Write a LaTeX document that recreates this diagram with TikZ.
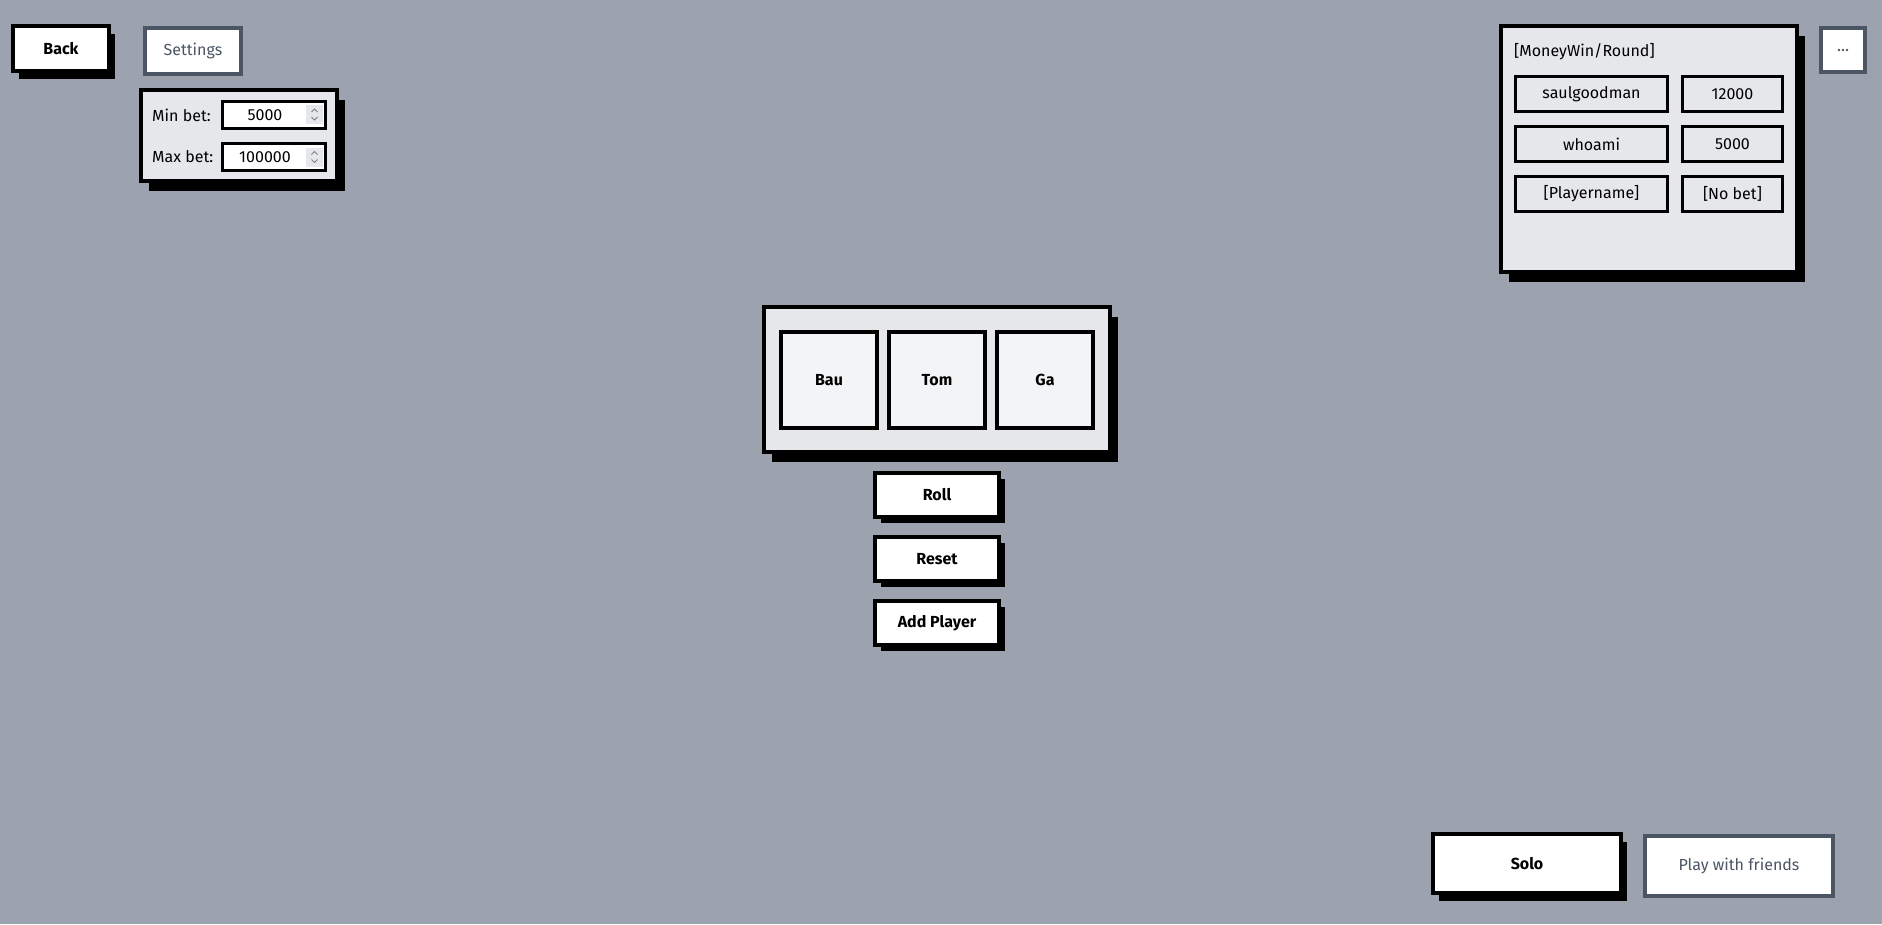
\documentclass[tikz,border=0pt]{standalone}
\usepackage{fontspec}
\setmainfont{Fira Sans}
\usepackage{tikz}
\usetikzlibrary{positioning,shadows}
\definecolor{bg}{HTML}{9CA3AF}
\definecolor{slate}{HTML}{4B5563}
\definecolor{panel}{HTML}{E5E7EB}
\definecolor{die}{HTML}{F3F4F6}

\begin{document}
\begin{tikzpicture}[x=1pt,y=-1pt,
        every node/.style={font=\fontsize{16}{19}\selectfont, inner sep=0pt},
        btn/.style={draw, line width=4pt, fill=white, font=\fontsize{16}{19}\selectfont\bfseries},
        ghost/.style={draw=slate, line width=4pt, fill=white, text=slate},
        pnl/.style={draw, line width=4pt, fill=panel},
        cell/.style={draw, line width=3pt, fill=panel, minimum height=35pt},
        field/.style={draw, line width=3pt, fill=white, minimum width=103pt, minimum height=27pt},
        bshadow/.style={general shadow={fill=black, shadow xshift=6pt, shadow yshift=-8pt}},
        sshadow/.style={general shadow={fill=black, shadow xshift=6pt, shadow yshift=-6pt}},
        pshadow/.style={general shadow={fill=black, shadow xshift=8pt, shadow yshift=-10pt}}]
    \fill[bg] (0,0) rectangle (1882,924);
    \useasboundingbox (0,0) rectangle (1882,924);

    % top left
    \node[btn, bshadow, minimum width=96pt, minimum height=45pt] (back) at (61,48.5) {Back};
    \node[ghost, minimum width=96pt, minimum height=46pt] (settings) at (193,51) {Settings};
    \node[pnl, pshadow, minimum width=196pt, minimum height=91pt] (betpanel) at (239,135.5) {};
    \node[anchor=west] (minlbl) at (152,115) {Min bet:};
    \node[anchor=west] (maxlbl) at (152,157) {Max bet:};
    \node[field] (minfield) at (274,114.5) {};
    \node[field, minimum height=27pt] (maxfield) at (274,157) {};
    \node (minval) at (265,115) {5000};
    \node (maxval) at (265,157) {100000};
    \foreach \y in {114.5,157}
    {
        \fill[panel] (306,\y-9.5) rectangle (323,\y+9.5);
        \draw[gray, line width=0.8pt] (311.5,\y-2.5)--(314.5,\y-5.5)--(317.5,\y-2.5);
        \draw[gray, line width=0.8pt] (311.5,\y+2.5)--(314.5,\y+5.5)--(317.5,\y+2.5);
    }

    % scoreboard
    \node[pnl, pshadow, minimum width=296pt, minimum height=246pt] (board) at (1649,149) {};
    \node[anchor=west] (boardtitle) at (1514,52) {[MoneyWin/Round]};
    \node[cell, minimum width=152pt] (name1) at (1591.5,94) {saulgoodman};
    \node[cell, minimum width=100pt] (win1) at (1732.5,94) {12000};
    \node[cell, minimum width=152pt] (name2) at (1591.5,144) {whoami};
    \node[cell, minimum width=100pt] (win2) at (1732.5,144) {5000};
    \node[cell, minimum width=152pt] (name3) at (1591.5,194) {[Playername]};
    \node[cell, minimum width=100pt] (win3) at (1732.5,194) {[No bet]};
    \node[ghost, minimum width=44pt, minimum height=44pt] (more) at (1843,50) {};
    \foreach \x in {-4,0,4}
        \fill[slate] ([xshift=\x pt]more.center) circle (1.3pt);

    % dice
    \node[pnl, pshadow, minimum width=346pt, minimum height=145pt] (tray) at (937,379.5) {};
    \node[btn, fill=die, minimum width=96pt, minimum height=96pt] (tom) at (937,380) {Tom};
    \node[btn, fill=die, minimum width=96pt, minimum height=96pt, left=8pt of tom] (bau) {Bau};
    \node[btn, fill=die, minimum width=96pt, minimum height=96pt, right=8pt of tom] (ga) {Ga};

    \node[btn, sshadow, minimum width=124pt, minimum height=44pt] (roll) at (937,495) {Roll};
    \node[btn, sshadow, minimum width=124pt, minimum height=44pt, below=16pt of roll] (reset) {Reset};
    \node[btn, sshadow, minimum width=124pt, minimum height=44pt, below=16pt of reset] (addplayer) {Add Player};

    % bottom right
    \node[btn, bshadow, minimum width=188pt, minimum height=59pt] (solo) at (1527,863.5) {Solo};
    \node[ghost, minimum width=188pt, minimum height=60pt] (friends) at (1739,866) {Play with friends};
\end{tikzpicture}
\end{document}
